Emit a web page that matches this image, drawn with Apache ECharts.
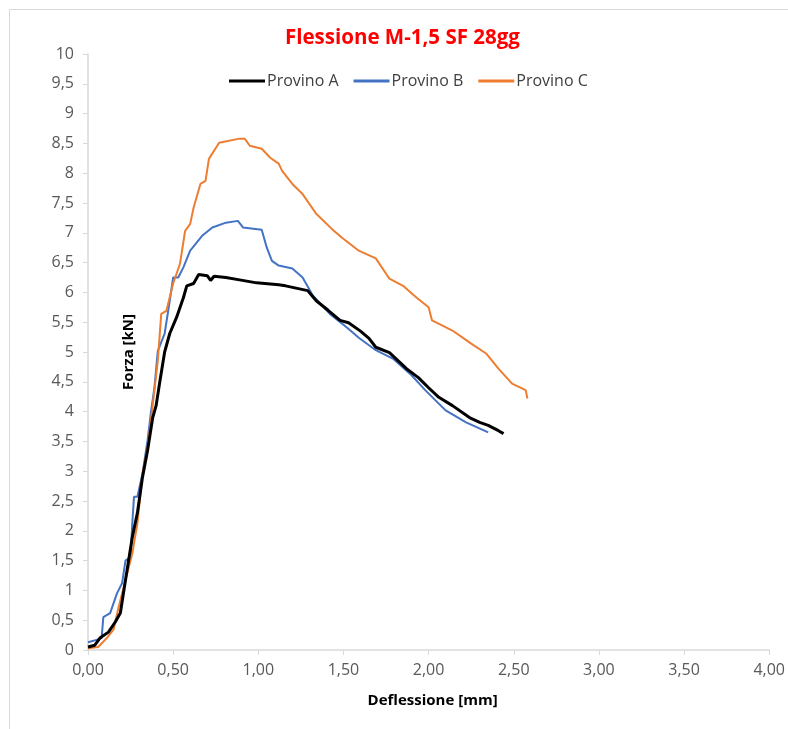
<!DOCTYPE html>
<html>
<head>
<meta charset="utf-8">
<script src="https://cdn.jsdelivr.net/npm/echarts@6/dist/echarts.min.js"></script>
<style>
  html, body { margin: 0; padding: 0; background: #fff; }
  #main { width: 788px; height: 729px; }
</style>
</head>
<body>
<div id="main"></div>
<script>
// valori: [deflessione mm, forza kN]
const provinoA = [
  [0, 0.05], [0.04, 0.08], [0.07, 0.2], [0.12, 0.3], [0.16, 0.47], [0.19, 0.62],
  [0.22, 1.17], [0.26, 1.89], [0.29, 2.3], [0.32, 2.9], [0.35, 3.35], [0.38, 3.9],
  [0.40, 4.1], [0.42, 4.47], [0.45, 5.0], [0.48, 5.31], [0.52, 5.58], [0.56, 5.91],
  [0.58, 6.11], [0.62, 6.15], [0.65, 6.30], [0.70, 6.28], [0.72, 6.2], [0.74, 6.27],
  [0.81, 6.25], [0.89, 6.21], [0.99, 6.16], [1.12, 6.13], [1.16, 6.11], [1.29, 6.03],
  [1.34, 5.86], [1.41, 5.7], [1.48, 5.53], [1.53, 5.49], [1.60, 5.35], [1.65, 5.23],
  [1.69, 5.08], [1.77, 4.99], [1.87, 4.72], [1.94, 4.57], [2.00, 4.4], [2.06, 4.24],
  [2.14, 4.1], [2.24, 3.9], [2.30, 3.82], [2.35, 3.77], [2.41, 3.68], [2.44, 3.63]
];
const provinoB = [
  [0, 0.13], [0.05, 0.17], [0.08, 0.2], [0.09, 0.55], [0.13, 0.62], [0.17, 0.95],
  [0.20, 1.12], [0.22, 1.5], [0.25, 1.56], [0.26, 2.12], [0.27, 2.57], [0.29, 2.57],
  [0.32, 2.96], [0.35, 3.52], [0.37, 4.0], [0.39, 4.4], [0.41, 5.02], [0.45, 5.31],
  [0.48, 5.86], [0.50, 6.25], [0.53, 6.25], [0.56, 6.42], [0.60, 6.70], [0.67, 6.95],
  [0.73, 7.09], [0.81, 7.17], [0.88, 7.2], [0.91, 7.09], [1.02, 7.05], [1.05, 6.75],
  [1.08, 6.53], [1.12, 6.45], [1.20, 6.4], [1.26, 6.25], [1.32, 5.95], [1.42, 5.64],
  [1.52, 5.41], [1.59, 5.24], [1.69, 5.03], [1.79, 4.89], [1.90, 4.61], [1.98, 4.36],
  [2.10, 4.02], [2.22, 3.82], [2.35, 3.65]
];
const provinoC = [
  [0, 0.03], [0.06, 0.05], [0.11, 0.2], [0.15, 0.34], [0.18, 0.72], [0.22, 1.17],
  [0.26, 1.62], [0.29, 2.12], [0.32, 2.96], [0.35, 3.4], [0.38, 4.1], [0.41, 4.86],
  [0.43, 5.64], [0.46, 5.69], [0.50, 6.15], [0.54, 6.48], [0.57, 7.03], [0.60, 7.15],
  [0.62, 7.42], [0.66, 7.82], [0.69, 7.87], [0.71, 8.24], [0.77, 8.51], [0.89, 8.58],
  [0.92, 8.58], [0.95, 8.46], [1.02, 8.41], [1.07, 8.26], [1.12, 8.16], [1.14, 8.04],
  [1.20, 7.82], [1.26, 7.65], [1.34, 7.32], [1.43, 7.07], [1.49, 6.92], [1.59, 6.70],
  [1.69, 6.57], [1.77, 6.23], [1.85, 6.11], [1.93, 5.91], [2.00, 5.75], [2.02, 5.53],
  [2.14, 5.36], [2.25, 5.14], [2.34, 4.97], [2.41, 4.72], [2.49, 4.47], [2.57, 4.36],
  [2.58, 4.22]
];
const nomi = ['Provino A', 'Provino B', 'Provino C'];
const colori = ['#000000', '#4472C4', '#ED7D31'];

const font = 'Open Sans';
const grigio = '#d9d9d9';

const chart = echarts.init(document.getElementById('main'));

chart.setOption({
  animation: false,
  textStyle: { fontFamily: font },
  title: {
    text: 'Flessione M-1,5 SF 28gg',
    left: 280,
    top: 23,
    textStyle: { color: '#ff0000', fontSize: 20.5, fontWeight: 'bold', fontFamily: font }
  },
  legend: {
    data: nomi,
    top: 68,
    left: 224,
    icon: 'rect',
    itemWidth: 36,
    itemHeight: 3,
    itemGap: 15,
    textStyle: { color: '#404040', fontSize: 16, fontFamily: font, padding: [0, 0, 0, -3] }
  },
  grid: { left: 88, right: 17, top: 54, bottom: 79 },
  xAxis: {
    type: 'value',
    min: 0, max: 4, interval: 0.5,
    name: 'Deflessione [mm]',
    nameLocation: 'middle',
    nameGap: 43,
    nameTextStyle: { color: '#000', fontWeight: 'bold', fontSize: 15, fontFamily: font, padding: [0, 0, 0, 8] },
    axisLine: { lineStyle: { color: grigio, width: 1.5 } },
    axisTick: { show: true, length: 5, lineStyle: { color: grigio } },
    splitLine: { show: false },
    axisLabel: {
      color: '#595959', fontSize: 16, margin: 12,
      formatter: v => v.toFixed(2).replace('.', ',')
    }
  },
  yAxis: {
    type: 'value',
    min: 0, max: 10, interval: 0.5,
    name: 'Forza [kN]',
    nameLocation: 'middle',
    nameRotate: 90,
    nameGap: -48,
    nameTextStyle: { color: '#000', fontWeight: 'bold', fontSize: 15, fontFamily: font },
    axisLine: { show: true, lineStyle: { color: grigio, width: 1.5 } },
    axisTick: { show: true, length: 5, lineStyle: { color: grigio } },
    splitLine: { show: false },
    axisLabel: {
      color: '#595959', fontSize: 16, margin: 14,
      formatter: v => String(v).replace('.', ',')
    }
  },
  graphic: [{
    type: 'rect',
    shape: { x: 9.5, y: 9.5, width: 900, height: 900 },
    style: { fill: 'none', stroke: grigio, lineWidth: 1 },
    silent: true
  }],
  series: [provinoA, provinoB, provinoC].map((d, i) => ({
    name: nomi[i],
    type: 'line',
    data: d,
    symbol: 'none',
    color: colori[i],
    lineStyle: { color: colori[i], width: i === 0 ? 3 : 2 },
    z: i === 0 ? 3 : 2
  }))
});
</script>
</body>
</html>
